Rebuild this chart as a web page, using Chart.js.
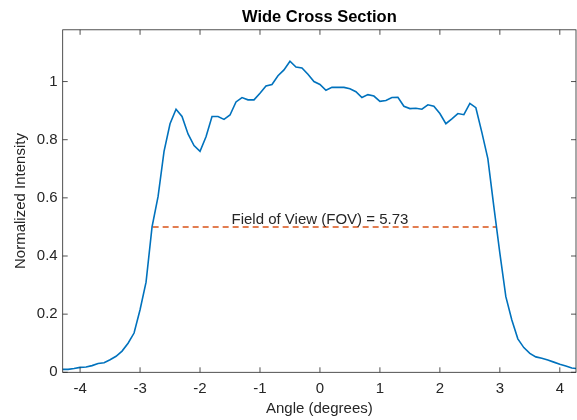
<!DOCTYPE html>
<html>
<head>
<meta charset="utf-8">
<title>Wide Cross Section</title>
<script src="https://cdn.jsdelivr.net/npm/chart.js@4/dist/chart.umd.min.js"></script>
<style>
  body { margin: 0; background: #fff; }
  #grafico { display: block; }
</style>
</head>
<body>
<canvas id="grafico" width="577" height="420"></canvas>
<script>
// datos
const angulos = [
  -4.3, -4.2, -4.1, -4.0, -3.9, -3.8, -3.7, -3.6, -3.5, -3.4,
  -3.3, -3.2, -3.1, -3.0, -2.9, -2.8, -2.7, -2.6, -2.5, -2.4,
  -2.3, -2.2, -2.1, -2.0, -1.9, -1.8, -1.7, -1.6, -1.5, -1.4,
  -1.3, -1.2, -1.1, -1.0, -0.9, -0.8, -0.7, -0.6, -0.5, -0.4,
  -0.3, -0.2, -0.1, 0.0, 0.1, 0.2, 0.3, 0.4, 0.5, 0.6,
  0.7, 0.8, 0.9, 1.0, 1.1, 1.2, 1.3, 1.4, 1.5, 1.6,
  1.7, 1.8, 1.9, 2.0, 2.1, 2.2, 2.3, 2.4, 2.5, 2.6,
  2.7, 2.8, 2.9, 3.0, 3.1, 3.2, 3.3, 3.4, 3.5, 3.6,
  3.7, 3.8, 3.9, 4.0, 4.1, 4.2, 4.3
];

const intensidad = [
  0.010, 0.010, 0.013, 0.017, 0.018, 0.023, 0.030, 0.033, 0.043, 0.055,
  0.073, 0.100, 0.135, 0.215, 0.310, 0.500, 0.604, 0.760, 0.855, 0.905,
  0.880, 0.820, 0.780, 0.760, 0.810, 0.880, 0.880, 0.870, 0.885, 0.930,
  0.945, 0.937, 0.937, 0.960, 0.985, 0.990, 1.020, 1.040, 1.070, 1.050,
  1.047, 1.025, 1.000, 0.990, 0.970, 0.980, 0.980, 0.980, 0.975, 0.965,
  0.945, 0.955, 0.950, 0.932, 0.935, 0.945, 0.946, 0.915, 0.907, 0.908,
  0.905, 0.920, 0.915, 0.890, 0.855, 0.872, 0.890, 0.886, 0.925, 0.910,
  0.825, 0.735, 0.570, 0.410, 0.260, 0.180, 0.115, 0.085, 0.065, 0.053,
  0.048, 0.042, 0.035, 0.028, 0.022, 0.015, 0.012
];

// linea de media altura (FOV)
const fovX = [-2.79, 2.94];
const fovY = [0.5, 0.5];
const fovTexto = 'Field of View (FOV) = 5.73';

const ticksX = [-4, -3, -2, -1, 0, 1, 2, 3, 4];
const ticksY = [0, 0.2, 0.4, 0.6, 0.8, 1];

const colorEjes = '#262626';
const fuente = "'Liberation Sans', Arial, sans-serif";

let puntos = (xs, ys) => xs.map((x, i) => ({ x: x, y: ys[i] }));

// caja y marcas hacia dentro, estilo MATLAB
const cajaEjes = {
  id: 'cajaEjes',
  afterDraw: (chart) => {
    const ctx = chart.ctx;
    const area = chart.chartArea;
    const sx = chart.scales.x;
    const sy = chart.scales.y;
    const largo = 5;
    ctx.save();
    ctx.strokeStyle = colorEjes;
    ctx.lineWidth = 0.8;
    ctx.strokeRect(area.left, area.top, area.right - area.left, area.bottom - area.top);
    ctx.beginPath();
    for (let t of ticksX) {
      let px = sx.getPixelForValue(t);
      ctx.moveTo(px, area.bottom);
      ctx.lineTo(px, area.bottom - largo);
      ctx.moveTo(px, area.top);
      ctx.lineTo(px, area.top + largo);
    }
    for (let t of ticksY) {
      let py = sy.getPixelForValue(t);
      ctx.moveTo(area.left, py);
      ctx.lineTo(area.left + largo, py);
      ctx.moveTo(area.right, py);
      ctx.lineTo(area.right - largo, py);
    }
    ctx.stroke();

    // texto del FOV
    ctx.fillStyle = colorEjes;
    ctx.font = '15px ' + fuente;
    ctx.textAlign = 'center';
    ctx.textBaseline = 'alphabetic';
    ctx.fillText(fovTexto, sx.getPixelForValue(0), sy.getPixelForValue(fovY[0]) - 3);
    ctx.restore();
  }
};

let contexto = document.getElementById('grafico').getContext('2d');

window.grafico = new Chart(contexto, {
  type: 'line',
  data: {
    datasets: [
      {
        label: 'Intensidad',
        data: puntos(angulos, intensidad),
        borderColor: '#0072BD',
        borderWidth: 1.6,
        pointRadius: 0,
        tension: 0,
        fill: false,
      },
      {
        label: 'FOV',
        data: puntos(fovX, fovY),
        borderColor: '#D95319',
        borderWidth: 1.5,
        borderDash: [6, 4],
        pointRadius: 0,
        fill: false,
      },
    ],
  },
  options: {
    responsive: false,
    animation: false,
    layout: { padding: { top: 0, right: 1, bottom: 0, left: 0 } },
    plugins: {
      legend: { display: false },
      tooltip: { enabled: false },
      title: {
        display: true,
        fullSize: false,
        text: 'Wide Cross Section',
        color: '#000',
        font: { family: fuente, size: 16.5, weight: 'bold' },
        padding: { top: 8, bottom: 2 },
      },
    },
    scales: {
      x: {
        type: 'linear',
        min: -4.29,
        max: 4.27,
        grid: { display: false, drawTicks: false },
        border: { display: false },
        afterBuildTicks: (scale) => { scale.ticks = ticksX.map(v => ({ value: v })); },
        afterFit: (scale) => { scale.height = 47.7; },
        ticks: {
          color: colorEjes,
          padding: 8,
          maxRotation: 0,
          font: { family: fuente, size: 15 },
          callback: (v) => String(v),
        },
        title: {
          display: true,
          text: 'Angle (degrees)',
          color: colorEjes,
          font: { family: fuente, size: 15 },
          padding: { top: 0, bottom: 2 },
        },
      },
      y: {
        type: 'linear',
        min: 0,
        max: 1.178,
        grid: { display: false, drawTicks: false },
        border: { display: false },
        afterBuildTicks: (scale) => { scale.ticks = ticksY.map(v => ({ value: v })); },
        afterFit: (scale) => { scale.width = 62.7; },
        ticks: {
          color: colorEjes,
          padding: 5,
          font: { family: fuente, size: 15 },
          callback: (v) => String(Math.round(v * 10) / 10),
        },
        title: {
          display: true,
          text: 'Normalized Intensity',
          color: colorEjes,
          font: { family: fuente, size: 15 },
          padding: { top: 12, bottom: 0 },
        },
      },
    },
  },
  plugins: [cajaEjes],
});
</script>
</body>
</html>
